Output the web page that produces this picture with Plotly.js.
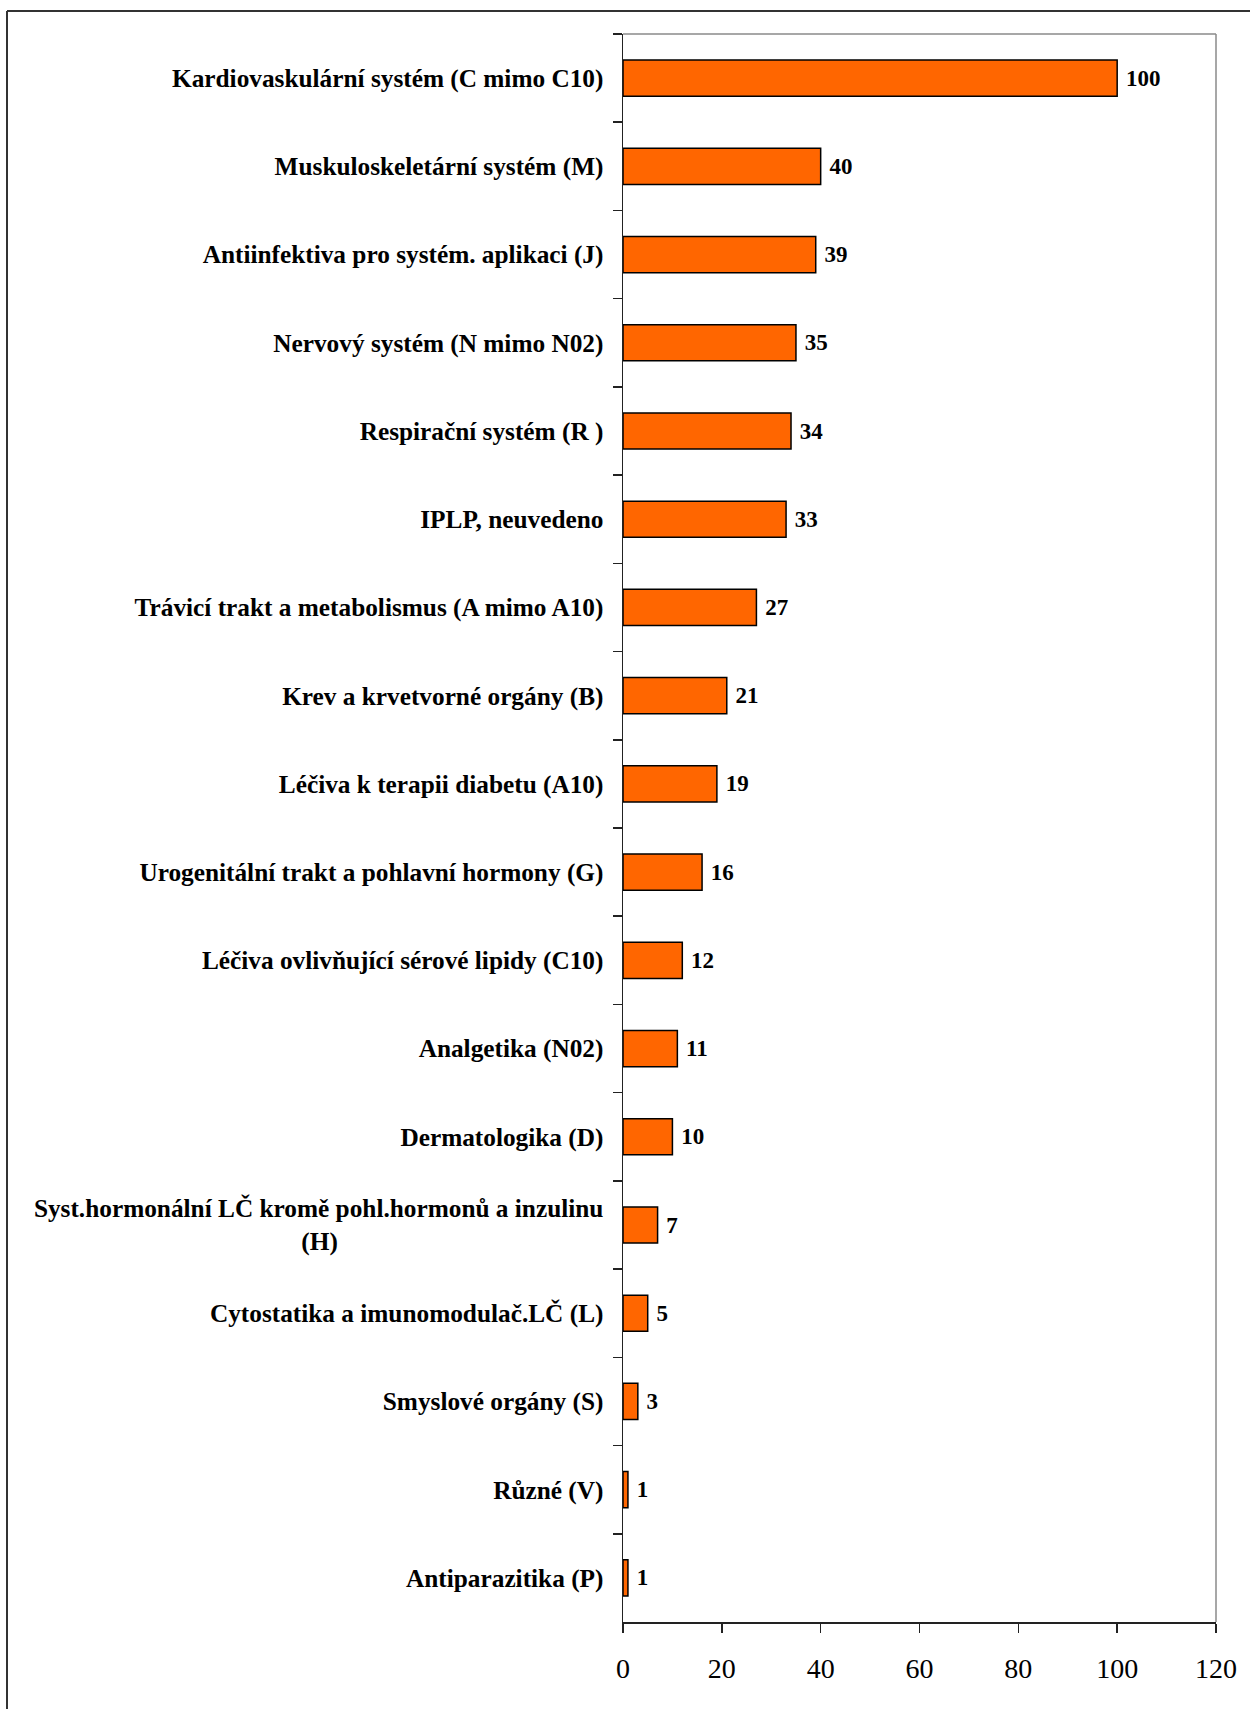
<!DOCTYPE html>
<html>
<head>
<meta charset="utf-8">
<script src="https://cdn.plot.ly/plotly-3.0.1.min.js"></script>
<style>html,body{margin:0;padding:0;background:#fff;}#chart{width:1250px;height:1709px;}</style>
</head>
<body>
<div id="chart"></div>
<script>
const NB = '\u00A0';
const categories = [
  'Kardiovaskulární systém (C mimo C10)',
  'Muskuloskeletární systém (M)',
  'Antiinfektiva pro systém. aplikaci (J)',
  'Nervový systém (N mimo N02)',
  'Respirační systém (R )',
  'IPLP, neuvedeno',
  'Trávicí trakt a metabolismus (A mimo A10)',
  'Krev a krvetvorné orgány (B)',
  'Léčiva k terapii diabetu (A10)',
  'Urogenitální trakt a pohlavní hormony (G)',
  'Léčiva ovlivňující sérové lipidy (C10)',
  'Analgetika (N02)',
  'Dermatologika (D)',
  'Syst.hormonální LČ kromě pohl.hormonů a inzulinu<br>(H)' + NB.repeat(42),
  'Cytostatika a imunomodulač.LČ (L)',
  'Smyslové orgány (S)',
  'Různé (V)',
  'Antiparazitika (P)'
];
const values = [100, 40, 39, 35, 34, 33, 27, 21, 19, 16, 12, 11, 10, 7, 5, 3, 1, 1];
const xTicks = [0, 20, 40, 60, 80, 100, 120];

const serif = 'Liberation Serif, Times New Roman, serif';

const trace = {
  type: 'bar',
  orientation: 'h',
  y: categories,
  x: values,
  text: values.map(v => NB + v),
  textposition: 'outside',
  constraintext: 'none',
  cliponaxis: false,
  textfont: {family: serif, size: 23, color: '#000', weight: 'bold'},
  marker: {color: '#FF6600', line: {color: '#000', width: 1.5}},
  hoverinfo: 'none'
};

// paper coordinates for outer frame
const L = 623, R = 34, T = 34, B = 87, W = 1250, H = 1709;
const pw = W - L - R, ph = H - T - B;
const px = x => (x - L) / pw;
const py = y => (H - B - y) / ph;

const layout = {
  width: W, height: H,
  margin: {l: L, r: R, t: T, b: B, pad: 0},
  paper_bgcolor: '#fff',
  plot_bgcolor: '#fff',
  showlegend: false,
  bargap: 0.59,
  xaxis: {
    range: [0, 120],
    tickvals: xTicks,
    ticktext: xTicks.map(String),
    ticks: 'outside', ticklen: 9, tickwidth: 1.5, tickcolor: '#222',
    showline: true, linecolor: '#222', linewidth: 1.5,
    showgrid: false, zeroline: false,
    tickfont: {family: serif, size: 28, color: '#000'},
    ticklabelstandoff: 12,
    fixedrange: true
  },
  yaxis: {
    type: 'category',
    autorange: 'reversed',
    ticks: 'outside', tickson: 'boundaries', ticklen: 9, tickwidth: 1.5, tickcolor: '#222',
    showline: true, linecolor: '#222', linewidth: 1.5,
    showgrid: false, zeroline: false,
    tickfont: {family: serif, size: 25.3, color: '#000', weight: 'bold'},
    ticklabelstandoff: 13,
    fixedrange: true
  },
  shapes: [
    // gray plot border (top & right)
    {type: 'line', xref: 'paper', yref: 'paper', x0: 0, x1: 1, y0: 1, y1: 1, line: {color: '#8a8a8a', width: 1.5}, layer: 'below'},
    {type: 'line', xref: 'paper', yref: 'paper', x0: 1, x1: 1, y0: 0, y1: 1, line: {color: '#8a8a8a', width: 1.5}, layer: 'below'},
    // outer chart frame
    {type: 'line', xref: 'paper', yref: 'paper', x0: px(7), x1: px(1260), y0: py(11), y1: py(11), line: {color: '#333', width: 2}},
    {type: 'line', xref: 'paper', yref: 'paper', x0: px(7), x1: px(7), y0: py(11), y1: py(1720), line: {color: '#333', width: 2}}
  ]
};

Plotly.newPlot('chart', [trace], layout, {displayModeBar: false, staticPlot: true});
</script>
</body>
</html>
